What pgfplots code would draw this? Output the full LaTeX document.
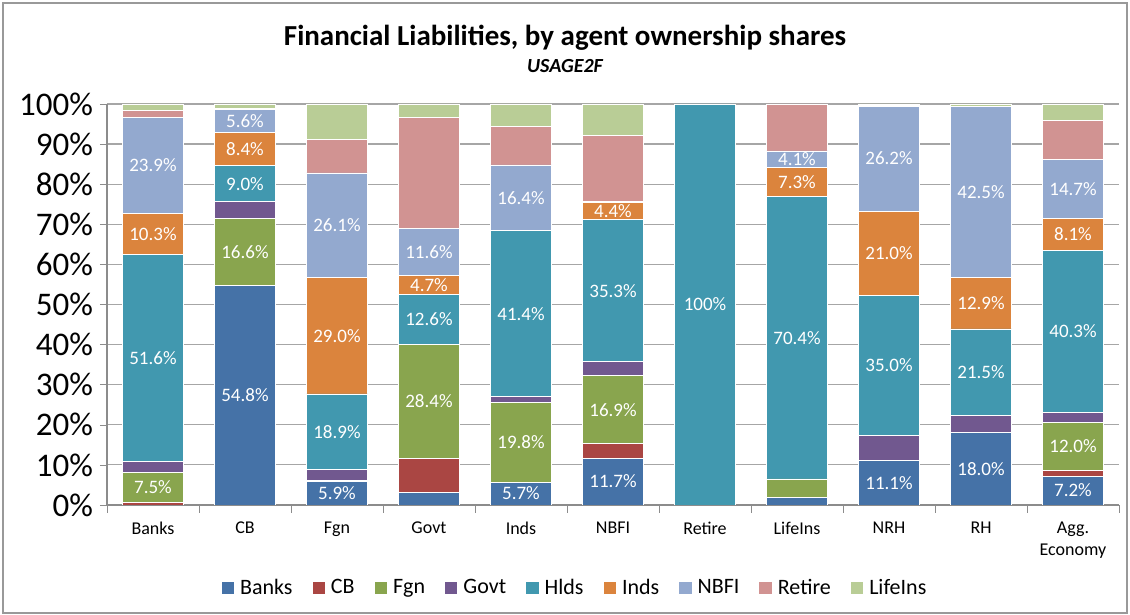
\documentclass[border=0pt]{standalone}
\usepackage{pgfplots}
\pgfplotsset{compat=1.18}
\usepackage{fontspec}
\setmainfont{Carlito}
\definecolor{cBanks}{HTML}{4572A7}
\definecolor{cCB}{HTML}{AA4643}
\definecolor{cFgn}{HTML}{89A54E}
\definecolor{cGovt}{HTML}{71588F}
\definecolor{cHlds}{HTML}{4198AF}
\definecolor{cInds}{HTML}{DB843D}
\definecolor{cNBFI}{HTML}{93A9CF}
\definecolor{cRetire}{HTML}{D19392}
\definecolor{cLifeIns}{HTML}{B9CD96}
\pgfplotsset{
  lbl/.style={
    point meta=explicit symbolic,
    nodes near coords,
    every node near coord/.append style={font=\fontsize{9.5}{11}\selectfont, text=white, anchor=center},
  }
}
\begin{document}
\begin{tikzpicture}
\begin{axis}[
  at={(0,0)}, anchor=south west,
  scale only axis, width=506pt, height=200.5pt,
  ybar stacked, bar width=30.5pt,
  xmin=-0.5, xmax=10.5, ymin=0, ymax=100,
  xtick={0,...,10},
  xticklabels={Banks,CB,Fgn,Govt,Inds,NBFI,Retire,LifeIns,NRH,RH,{Agg.\\Economy}},
  xticklabel style={align=center, font=\fontsize{9}{11}\selectfont, text=black, yshift=-1.5pt},
  major x tick style={draw=none},
  minor xtick={-0.5,0.5,...,10.5},
  minor x tick style={draw=black!45},
  minor tick length=4pt,
  major tick length=3.5pt,
  tick align=outside,
  ytick={0,10,...,100},
  yticklabel={\pgfmathprintnumber{\tick}\%},
  yticklabel style={font=\fontsize{16.5}{18}\selectfont},
  /pgf/number format/assume math mode=true,
  y tick style={draw=black!45},
  ymajorgrids,
  grid style={draw=black!35, line width=0.6pt},
  axis x line*=bottom, axis y line*=left,
  axis line style={draw=black!45, line width=0.6pt},
  legend columns=9,
  legend style={draw=none, fill=none, at={(0.4625,0)}, anchor=center, yshift=-41.5pt,
    font=\fontsize{11}{13}\selectfont,
    nodes={inner sep=1pt},
    /tikz/every even column/.append style={column sep=9pt},
    /tikz/every odd column/.append style={column sep=2pt}},
  legend image code/.code={\fill[#1, draw=none] (0pt,-3.1pt) rectangle (6.2pt,3.1pt);},
  every axis plot/.append style={draw=white, line width=0.4pt},
]
\addplot[fill=cBanks, lbl] coordinates {
 (0,0) [] (1,54.8) [54.8\%] (2,5.9) [5.9\%] (3,3.2) [] (4,5.7) [5.7\%] (5,11.7) [11.7\%]
 (6,0) [] (7,1.8) [] (8,11.1) [11.1\%] (9,18.0) [18.0\%] (10,7.2) [7.2\%]};
\addplot[fill=cCB] coordinates {
 (0,0.6) (1,0) (2,0.3) (3,8.4) (4,0) (5,3.6) (6,0) (7,0) (8,0) (9,0) (10,1.4)};
\addplot[fill=cFgn, lbl] coordinates {
 (0,7.5) [7.5\%] (1,16.6) [16.6\%] (2,0) [] (3,28.4) [28.4\%] (4,19.8) [19.8\%] (5,16.9) [16.9\%]
 (6,0) [] (7,4.7) [] (8,0) [] (9,0) [] (10,12.0) [12.0\%]};
\addplot[fill=cGovt] coordinates {
 (0,2.7) (1,4.2) (2,2.6) (3,0) (4,1.5) (5,3.6) (6,0) (7,0) (8,6.2) (9,4.4) (10,2.5)};
\addplot[fill=cHlds, lbl] coordinates {
 (0,51.6) [51.6\%] (1,9.0) [9.0\%] (2,18.9) [18.9\%] (3,12.6) [12.6\%] (4,41.4) [41.4\%] (5,35.3) [35.3\%]
 (6,100) [100\%] (7,70.4) [70.4\%] (8,35.0) [35.0\%] (9,21.5) [21.5\%] (10,40.3) [40.3\%]};
\addplot[fill=cInds, lbl] coordinates {
 (0,10.3) [10.3\%] (1,8.4) [8.4\%] (2,29.0) [29.0\%] (3,4.7) [4.7\%] (4,0) [] (5,4.4) [4.4\%]
 (6,0) [] (7,7.3) [7.3\%] (8,21.0) [21.0\%] (9,12.9) [12.9\%] (10,8.1) [8.1\%]};
\addplot[fill=cNBFI, lbl] coordinates {
 (0,23.9) [23.9\%] (1,5.6) [5.6\%] (2,26.1) [26.1\%] (3,11.6) [11.6\%] (4,16.4) [16.4\%] (5,0.1) []
 (6,0) [] (7,4.1) [4.1\%] (8,26.2) [26.2\%] (9,42.5) [42.5\%] (10,14.7) [14.7\%]};
\addplot[fill=cRetire] coordinates {
 (0,1.9) (1,0.3) (2,8.4) (3,27.7) (4,9.5) (5,16.6) (6,0) (7,11.7) (8,0.2) (9,0) (10,9.8)};
\addplot[fill=cLifeIns] coordinates {
 (0,1.5) (1,1.1) (2,8.8) (3,3.4) (4,5.7) (5,7.8) (6,0) (7,0) (8,0.3) (9,0.7) (10,4.0)};
\legend{Banks,CB,Fgn,Govt,Hlds,Inds,NBFI,Retire,LifeIns}
\end{axis}
\node[font=\bfseries\fontsize{14.5}{16}\selectfont] at (229pt,233.5pt) {Financial Liabilities, by agent ownership shares};
\node[font=\bfseries\itshape\fontsize{10}{12}\selectfont] at (229pt,219.6pt) {USAGE2F};
\draw[black!40, line width=0.8pt] (-52pt,-54pt) rectangle (510pt,251pt);
\path[use as bounding box] (-53.5pt,-55pt) rectangle (511.5pt,252.5pt);
\end{tikzpicture}
\end{document}
